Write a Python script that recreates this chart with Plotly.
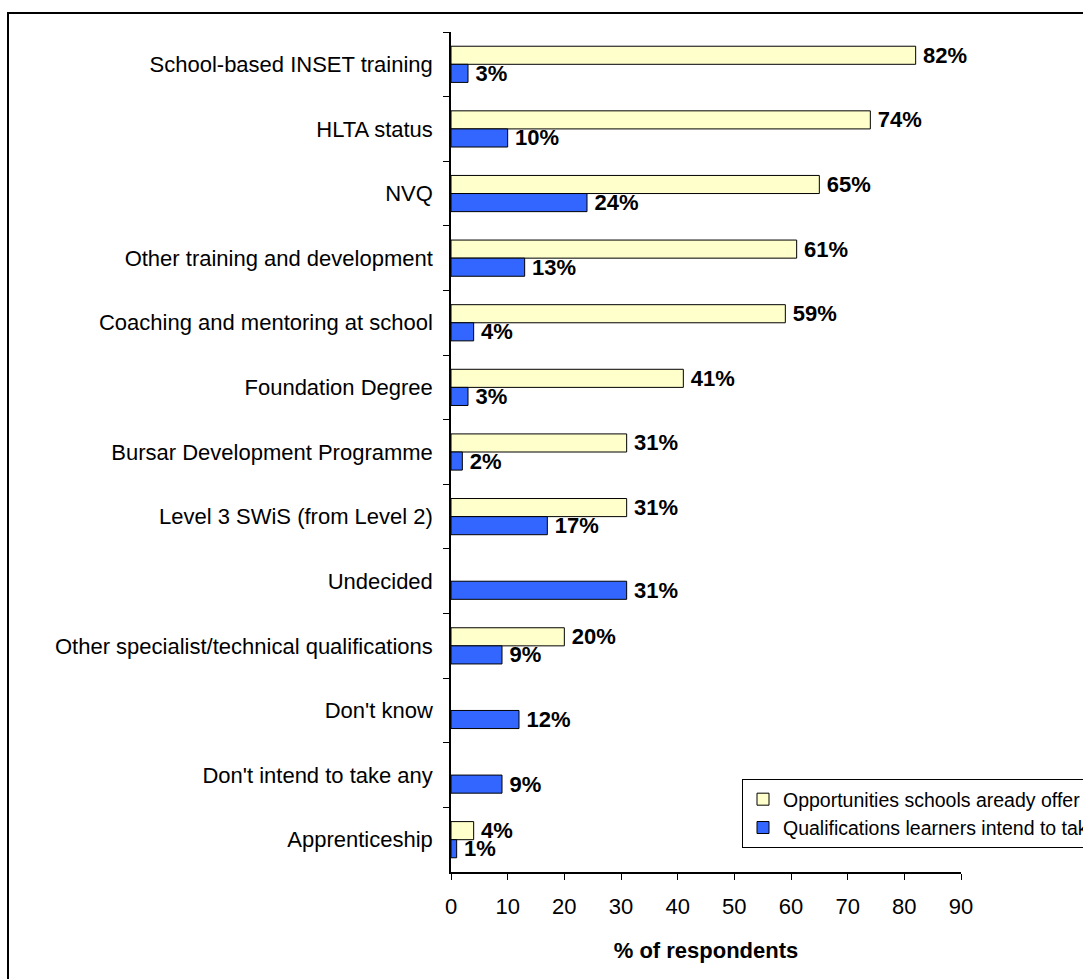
import plotly.graph_objects as go

categories = [
    "School-based INSET training",
    "HLTA status",
    "NVQ",
    "Other training and development",
    "Coaching and mentoring at school",
    "Foundation Degree",
    "Bursar Development Programme",
    "Level 3 SWiS (from Level 2)",
    "Undecided",
    "Other specialist/technical qualifications",
    "Don't know",
    "Don't intend to take any",
    "Apprenticeship",
]
already_offer = [82, 74, 65, 61, 59, 41, 31, 31, None, 20, None, None, 4]
intend_to_take = [3, 10, 24, 13, 4, 3, 2, 17, 31, 9, 12, 9, 1]
x_ticks = [0, 10, 20, 30, 40, 50, 60, 70, 80, 90]

FONT = "Liberation Sans, Arial, sans-serif"
W, H = 1083, 979
L, R, T, B = 451, 122, 32, 107
pw, ph = W - L - R, H - T - B


def labels(vals):
    # thin space keeps the value a little clear of the bar end
    return [f"<b>\u2009{v}%</b>" if v is not None else "" for v in vals]


fig = go.Figure()
fig.add_trace(go.Bar(
    y=categories, x=already_offer, orientation="h",
    name="Opportunities schools aready offer",
    marker=dict(color="#FFFFCC", line=dict(color="#000000", width=1)),
    text=labels(already_offer), textposition="outside",
    textfont=dict(family=FONT, size=22, color="#000000"),
    constraintext="none", cliponaxis=False,
))
fig.add_trace(go.Bar(
    y=categories, x=intend_to_take, orientation="h",
    name="Qualifications learners intend to take",
    marker=dict(color="#3366FF", line=dict(color="#000000", width=1)),
    text=labels(intend_to_take), textposition="outside",
    textfont=dict(family=FONT, size=22, color="#000000"),
    constraintext="none", cliponaxis=False,
))

# outer frame around the whole chart
fig.add_shape(
    type="rect", xref="paper", yref="paper",
    x0=(8 - L) / pw, x1=(1100 - L) / pw,
    y0=1 - (1000 - T) / ph, y1=1 + (T - 13) / ph,
    line=dict(color="#000000", width=2), fillcolor="rgba(0,0,0,0)",
    layer="below",
)

fig.update_layout(
    width=W, height=H,
    margin=dict(l=L, r=R, t=T, b=B, autoexpand=False),
    paper_bgcolor="#FFFFFF", plot_bgcolor="#FFFFFF",
    font=dict(family=FONT, size=22, color="#000000"),
    barmode="group", bargap=0.44, bargroupgap=0,
    showlegend=True,
    legend=dict(
        x=(742 - L) / pw, y=1 - (779 - T) / ph,
        xanchor="left", yanchor="top",
        bordercolor="#000000", borderwidth=1, bgcolor="#FFFFFF",
        font=dict(family=FONT, size=19.5, color="#000000"),
        traceorder="normal", tracegroupgap=0,
        itemwidth=30,
    ),
)
fig.update_xaxes(
    range=[0, 90], tickvals=x_ticks, ticks="outside", ticklen=6,
    tickcolor="#000000", showline=True, linecolor="#000000", linewidth=1.5,
    showgrid=False, zeroline=False, ticklabelstandoff=8, automargin=False,
    tickfont=dict(family=FONT, size=22),
    title=dict(text="<b>% of respondents</b>", font=dict(family=FONT, size=22), standoff=24),
)
fig.update_yaxes(
    autorange="reversed", ticks="outside", ticklen=6, tickson="boundaries",
    tickcolor="#000000", showline=True, linecolor="#000000", linewidth=1.5,
    showgrid=False, zeroline=False, ticklabelstandoff=12, automargin=False,
    tickfont=dict(family=FONT, size=22),
)

fig.write_html("out.html")
